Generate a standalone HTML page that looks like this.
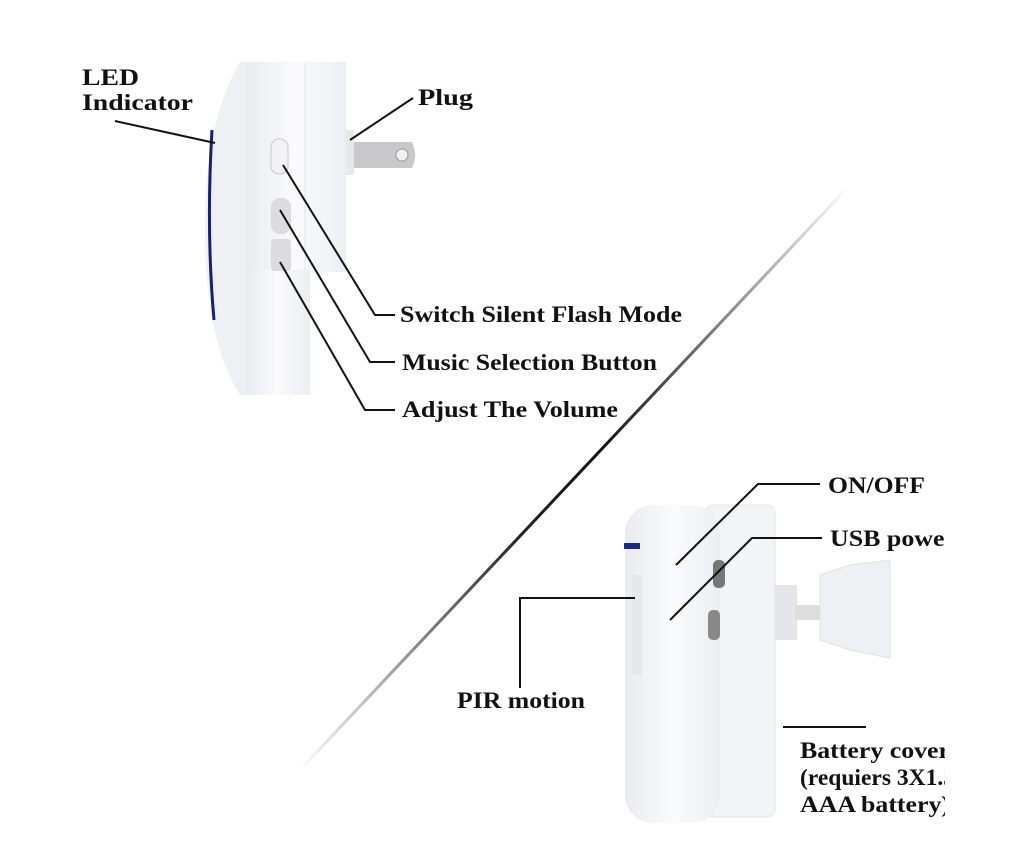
<!DOCTYPE html>
<html><head><style>
html,body{margin:0;padding:0;background:#fff;}
svg{display:block;}
text{font-family:"Liberation Serif",serif;font-weight:bold;font-size:23px;fill:#111;}
</style></head><body>
<svg width="1035" height="868" viewBox="0 0 1035 868">
<defs>
<linearGradient id="diag" x1="850" y1="185" x2="300" y2="770" gradientUnits="userSpaceOnUse">
<stop offset="0" stop-color="#fff"/><stop offset="0.45" stop-color="#111"/><stop offset="0.6" stop-color="#222"/><stop offset="1" stop-color="#fff"/>
</linearGradient>
<linearGradient id="wh" x1="0" x2="1"><stop offset="0" stop-color="#e9ebf0"/><stop offset="0.5" stop-color="#fbfbfd"/><stop offset="1" stop-color="#eceef2"/></linearGradient>
<clipPath id="cr"><rect x="0" y="0" width="945" height="868"/></clipPath>
</defs>
<line x1="850" y1="185" x2="300" y2="770" stroke="url(#diag)" stroke-width="3"/>

<!-- doorbell -->
<path d="M240 62 Q205 120 205 230 Q205 340 240 395 L248 395 L248 62 Z" fill="#eef0f4"/>
<path d="M212 130 Q206 230 214 320" stroke="#1a1f6e" stroke-width="3" fill="none"/>
<rect x="246" y="62" width="100" height="210" fill="url(#wh)"/>
<rect x="246" y="270" width="64" height="125" fill="url(#wh)"/>
<line x1="305" y1="64" x2="305" y2="270" stroke="#e2e4e8"/>
<rect x="346" y="130" width="8" height="45" fill="#e8e8ea"/>
<path d="M354 142 L412 142 Q418 155 412 168 L354 168 Z" fill="#c9c9cc"/>
<circle cx="402" cy="155" r="6" fill="#f2f2f2" stroke="#999"/>
<rect x="271" y="139" width="17" height="35" rx="8" fill="#f3f3f5" stroke="#c8c8cc"/>
<rect x="271" y="198" width="20" height="36" rx="9" fill="#dcdce0"/>
<rect x="271" y="239" width="20" height="32" rx="4" fill="#dcdce0"/>

<!-- sensor -->
<rect x="705" y="505" width="70" height="312" rx="8" fill="#f3f4f7" stroke="#e4e5ea"/>
<rect x="625" y="505" width="95" height="318" rx="28" fill="url(#wh)"/>
<rect x="624" y="543" width="16" height="6" fill="#1a2a7a"/>
<rect x="632" y="575" width="10" height="100" fill="#e6e8ed"/>
<rect x="713" y="560" width="12" height="28" rx="5" fill="#777"/>
<rect x="708" y="610" width="12" height="30" rx="5" fill="#888"/>
<rect x="775" y="585" width="22" height="55" fill="#e6e6ea"/>
<rect x="795" y="605" width="25" height="15" fill="#ddd"/>
<path d="M820 575 L850 565 L890 560 L890 658 L850 650 L820 640 Z" fill="#eef0f4" stroke="#e0e2e6"/>

<!-- leaders -->
<g stroke="#111" stroke-width="2" fill="none">
<line x1="115" y1="121" x2="215" y2="143"/>
<line x1="413" y1="98" x2="350" y2="140"/>
<polyline points="283,165 375,315 395,315"/>
<polyline points="280,210 370,362 395,362"/>
<polyline points="280,262 365,410 395,410"/>
<polyline points="676,565 758,484 820,484"/>
<polyline points="670,620 752,538 822,538"/>
<polyline points="635,598 520,598 520,688"/>
<line x1="783" y1="727" x2="866" y2="727"/>
</g>

<text x="82" y="85" textLength="57" lengthAdjust="spacingAndGlyphs">LED</text>
<text x="82" y="110" textLength="111" lengthAdjust="spacingAndGlyphs">Indicator</text>
<text x="418" y="105" textLength="55" lengthAdjust="spacingAndGlyphs">Plug</text>
<text x="400" y="322" textLength="282" lengthAdjust="spacingAndGlyphs">Switch Silent Flash Mode</text>
<text x="402" y="370" textLength="255" lengthAdjust="spacingAndGlyphs">Music Selection Button</text>
<text x="402" y="417" textLength="216" lengthAdjust="spacingAndGlyphs">Adjust The Volume</text>
<text x="457" y="708" textLength="128" lengthAdjust="spacingAndGlyphs">PIR motion</text>
<g clip-path="url(#cr)">
<text x="828" y="493" textLength="97" lengthAdjust="spacingAndGlyphs">ON/OFF</text>
<text x="830" y="546" textLength="126" lengthAdjust="spacingAndGlyphs">USB power</text>
<text x="800" y="758" textLength="150" lengthAdjust="spacingAndGlyphs">Battery cover</text>
<text x="800" y="785" textLength="172" lengthAdjust="spacingAndGlyphs">(requiers 3X1.5V</text>
<text x="800" y="812" textLength="150" lengthAdjust="spacingAndGlyphs">AAA battery)</text>
</g>
</svg>
</body></html>
